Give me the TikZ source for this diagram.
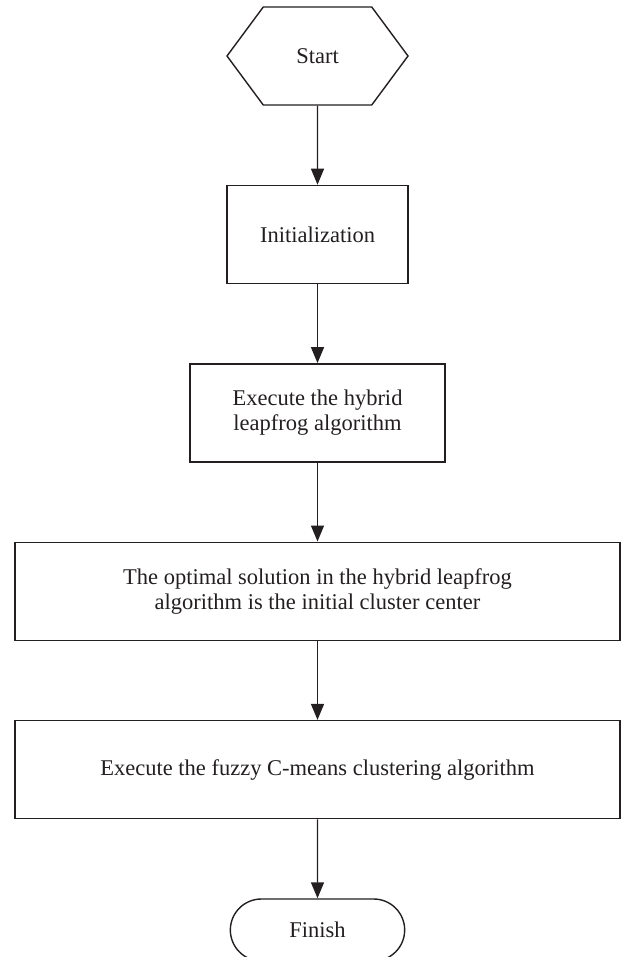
\documentclass[tikz,border=0pt]{standalone}
\usepackage{fontspec}
\setmainfont{Liberation Serif}
\usetikzlibrary{positioning,shapes.symbols,shapes.misc,arrows.meta}
\definecolor{ink}{HTML}{231F20}
\begin{document}
\begin{tikzpicture}[
    every node/.style={draw=ink,text=ink,line width=1.4pt,font=\fontsize{22.5}{25}\selectfont,align=center},
    procbox/.style={rectangle,minimum height=98pt},
    termhex/.style={signal,signal to=east and west,signal pointer angle=107,minimum width=181pt,minimum height=98pt},
    termend/.style={rounded rectangle,minimum width=181pt,minimum height=62pt},
    sarr/.style={-{Triangle[length=16pt,width=13pt]},draw=ink,line width=1.4pt},
    node distance=79pt
    ]
    \useasboundingbox (0,0) rectangle (631pt,-957pt);
    \node[termhex] (start) at (317.5pt,-56pt) {Start};
    \node[procbox,minimum width=181pt,below=of start] (init) {Initialization};
    \node[procbox,minimum width=255pt,below=of init] (hybrid) {Execute the hybrid\\leapfrog algorithm};
    \node[procbox,minimum width=605pt,below=of hybrid] (optim) {The optimal solution in the hybrid leapfrog\\algorithm is the initial cluster center};
    \node[procbox,minimum width=605pt,below=of optim] (fuzzy) {Execute the fuzzy C-means clustering algorithm};
    \node[termend,below=of fuzzy] (finish) {Finish};
    \foreach \A/\B in {start/init,init/hybrid,hybrid/optim,optim/fuzzy,fuzzy/finish}
    {\draw[sarr] (\A) -- (\B);}
\end{tikzpicture}
\end{document}
